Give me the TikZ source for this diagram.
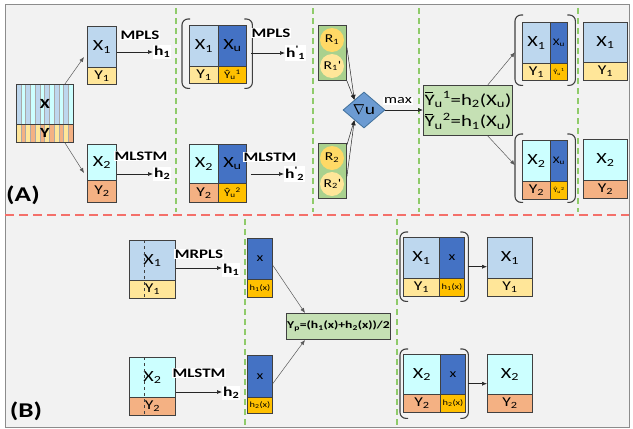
\documentclass[tikz,border=0pt]{standalone}
\usepackage{fontspec}
\setmainfont{Carlito}[FakeStretch=1.3]
\usetikzlibrary{arrows.meta,shapes.geometric,calc}
\definecolor{bgc}{HTML}{F2F2F2}
\definecolor{frame}{HTML}{8C8C8C}
\definecolor{bd}{HTML}{404040}
\definecolor{lb}{HTML}{BDD7EE}
\definecolor{ly}{HTML}{FFE699}
\definecolor{cy}{HTML}{CCFFFF}
\definecolor{orn}{HTML}{F4B183}
\definecolor{dbl}{HTML}{4472C4}
\definecolor{gld}{HTML}{FFC000}
\definecolor{gbox}{HTML}{C5E0B4}
\definecolor{rbox}{HTML}{A9D18E}
\definecolor{rc}{HTML}{FFD966}
\definecolor{dia}{HTML}{6C9BD2}
\definecolor{diab}{HTML}{41719C}
\definecolor{redd}{HTML}{F4706A}
\definecolor{grd}{HTML}{8FCB6A}
\newcommand\fs[1]{\fontsize{#1}{#1}\selectfont}
\newcommand\sbs[1]{\textsubscript{#1}}
\newcommand\sps[1]{\textsuperscript{#1}}
\newcommand\Ybr{\leavevmode\rlap{\hspace{0.06em}\rule[0.74em]{0.5em}{0.06em}}Y}
\newcommand\hp[1]{h\sps{\textquotesingle}\sbs{#1}}
\tikzset{
  cell/.style={draw=bd, line width=0.9pt, inner sep=0pt, anchor=north west, font=\fs{15.5}},
  ycell/.style={cell, font=\fs{13.5}},
  lbl/.style={fill=white, inner sep=1pt, font=\bfseries\fs{13}},
  hl/.style={fill=white, inner sep=1pt, font=\bfseries\fs{13.5}},
  arr/.style={-{Latex[length=5pt,width=4pt]}, line width=0.7pt, draw=black!85},
  garr/.style={-{Latex[length=5pt,width=4pt]}, line width=0.5pt, draw=black!65},
  brk/.style={draw=bd, line width=1.1pt, rounded corners=6pt},
  bnode/.style={inner sep=0pt, anchor=north west},
  gdash/.style={draw=grd, line width=1.2pt, dash pattern=on 6pt off 4pt},
  rdash/.style={draw=redd, line width=1.6pt, dash pattern=on 9pt off 5pt},
  rcirc/.style={circle, inner sep=0pt, minimum size=24pt, font=\fs{12}},
  gnode/.style={draw=bd, line width=0.9pt, fill=gbox, inner sep=0pt, anchor=north west}
}
\begin{document}
\begin{tikzpicture}[x=1pt,y=-1pt]
\useasboundingbox (0,0) rectangle (633,429);
\fill[white] (0,0) rectangle (633,429);
\draw[fill=bgc, draw=frame, line width=1pt] (5,4) rectangle (629,427);
% separators
\draw[rdash] (5,215) -- (629,215);
\foreach \xx in {176,313,419,578} {\draw[gdash] (\xx,8) -- (\xx,212);}
\foreach \xx in {245,397} {\draw[gdash] (\xx,219) -- (\xx,426);}
% ---------------- (A) ----------------
\node[font=\bfseries\fs{21}] (LA) at (23,195) {(A)};
% striped block
\foreach \i in {0,...,11}{
  \ifodd\i \def\ca{cy}\def\cb{orn}\else \def\ca{lb}\def\cb{ly}\fi
  \fill[fill=\ca] ({16+\i*4.75},84) rectangle ({16+(\i+1)*4.75},124);
  \fill[fill=\cb] ({16+\i*4.75},124) rectangle ({16+(\i+1)*4.75},142);
  \draw[bd!45, line width=0.3pt] ({16+\i*4.75},84) -- ({16+\i*4.75},142);
}
\node[cell, minimum width=57pt, minimum height=40pt, font=\bfseries\fs{14}] (SX) at (16,84) {X};
\node[cell, minimum width=57pt, minimum height=18pt, font=\bfseries\fs{14}] (SY) at (16,124) {Y};
% column 1
\node[cell, fill=lb, minimum width=29pt, minimum height=41pt] (A1x) at (87,26) {X\sbs{1}};
\node[ycell, fill=ly, minimum width=29pt, minimum height=17pt] (A1y) at (87,67) {Y\sbs{1}};
\node[cell, fill=cy, minimum width=29pt, minimum height=36pt] (A2x) at (87,144) {X\sbs{2}};
\node[ycell, fill=orn, minimum width=29pt, minimum height=22pt] (A2y) at (87,180) {Y\sbs{2}};
\draw[garr] ($(SX.north)+(20,0)$) -- ($(A1x.north west)+(-3,31)$);
\draw[garr] ($(SY.south)+(20,0)$) -- ($(A2x.north west)+(-3,29)$);
\node[lbl] (A1l) at (140,35) {MPLS};
\node[hl, anchor=west] (A1h) at (153,52) {h\sbs{1}};
\draw[arr] (A1x.east |- A1h.west) -- (A1h.west);
\node[lbl] (A2l) at (141,156) {MLSTM};
\node[hl, anchor=west] (A2h) at (153,174) {h\sbs{2}};
\draw[arr] (A2x.east |- A2h.west) -- (A2h.west);
% column 2
\node[cell, fill=lb, minimum width=29pt, minimum height=41pt] (B1x) at (189,25) {X\sbs{1}};
\node[cell, fill=dbl, minimum width=28pt, minimum height=41pt] (B1u) at (218,25) {X\sbs{u}};
\node[ycell, fill=ly, minimum width=29pt, minimum height=17pt] (B1y) at (189,66) {Y\sbs{1}};
\node[ycell, fill=gld, minimum width=28pt, minimum height=17pt, font=\fs{10}] (B1yu) at (218,66) {Ŷ\sbs{u}\sps{1}};
\node[bnode, minimum width=70pt, minimum height=69pt] (B1b) at (182,19) {};
\draw[brk] ([xshift=8pt]B1b.north west) -- (B1b.north west) -- (B1b.south west) -- ([xshift=8pt]B1b.south west);
\draw[brk] ([xshift=-8pt]B1b.north east) -- (B1b.north east) -- (B1b.south east) -- ([xshift=-8pt]B1b.south east);
\node[lbl] (B1l) at (271,33) {MPLS};
\node[hl, anchor=west] (B1h) at (285,53) {\hp{1}};
\draw[arr] ($(B1b.east |- B1h.west)+(-1,0)$) -- (B1h.west);
\node[cell, fill=cy, minimum width=29pt, minimum height=39pt] (B2x) at (189,144) {X\sbs{2}};
\node[cell, fill=dbl, minimum width=28pt, minimum height=39pt] (B2u) at (218,144) {X\sbs{u}};
\node[ycell, fill=orn, minimum width=29pt, minimum height=19pt] (B2y) at (189,183) {Y\sbs{2}};
\node[ycell, fill=gld, minimum width=28pt, minimum height=19pt, font=\fs{10}] (B2yu) at (218,183) {Ŷ\sbs{u}\sps{2}};
\node[lbl] (B2l) at (270,157) {MLSTM};
\node[hl, anchor=west] (B2h) at (284,174) {\hp{2}};
\draw[arr] ($(B2u.east |- B2h.west)+(4,0)$) -- (B2h.west);
% column 3
\node[bnode, draw=bd, line width=0.9pt, fill=rbox, minimum width=28pt, minimum height=55pt] (R1b) at (318,25) {};
\node[rcirc, fill=rc] (R1) at (332,40) {R\sbs{1}};
\node[rcirc, fill=ly] (R1p) at (332,66) {R\sbs{1}\textquotesingle};
\node[bnode, draw=bd, line width=0.9pt, fill=rbox, minimum width=28pt, minimum height=55pt] (R2b) at (318,143) {};
\node[rcirc, fill=rc] (R2) at (332,158) {R\sbs{2}};
\node[rcirc, fill=ly] (R2p) at (332,184) {R\sbs{2}\textquotesingle};
\node[diamond, draw=diab, line width=0.8pt, fill=dia, inner sep=0pt, minimum width=42pt, minimum height=36pt, font=\fs{15}] (D) at (364,110) {$\nabla$u};
\coordinate (Dt) at ($(D.north)!0.45!(D.west)$);
\coordinate (Db) at ($(D.south)!0.45!(D.west)$);
\draw[garr, draw=black!85] ($(R1b.north east)!0.4!(R1b.south east)$) -- (Dt);
\draw[garr, draw=black!85] (R1b.south east) -- (Dt);
\draw[garr, draw=black!85] ($(R2b.north east)+(0,2)$) -- (Db);
\draw[garr, draw=black!85] ($(R2b.north east)!0.6!(R2b.south east)$) -- (Db);
\node[gnode, minimum width=89pt, minimum height=50pt, align=center, font=\fs{16}] (Yb) at (423,85)
  {\Ybr\sbs{u}\sps{1}=h\sbs{2}(X\sbs{u})\\[4pt]\Ybr\sbs{u}\sps{2}=h\sbs{1}(X\sbs{u})};
\draw[arr] (D.east) -- (D.east -| Yb.west);
\node[fill=white, inner sep=1pt, font=\fs{12.5}] (Dm) at (398,101) {max};
% column 4
\node[cell, fill=lb, minimum width=28pt, minimum height=41pt] (C1x) at (522,22) {X\sbs{1}};
\node[cell, fill=dbl, minimum width=17pt, minimum height=41pt, font=\fs{10}] (C1u) at (550,22) {X\sbs{u}};
\node[ycell, fill=ly, minimum width=28pt, minimum height=17pt] (C1y) at (522,63) {Y\sbs{1}};
\node[ycell, fill=gld, minimum width=17pt, minimum height=17pt, font=\fs{6.5}] (C1yu) at (550,63) {Ŷ\sbs{u}\sps{1}};
\node[bnode, minimum width=60pt, minimum height=70pt] (C1b) at (515,15) {};
\draw[brk] ([xshift=8pt]C1b.north west) -- (C1b.north west) -- (C1b.south west) -- ([xshift=8pt]C1b.south west);
\draw[brk] ([xshift=-8pt]C1b.north east) -- (C1b.north east) -- (C1b.south east) -- ([xshift=-8pt]C1b.south east);
\node[cell, fill=lb, minimum width=44pt, minimum height=40pt] (C1r) at (583,22) {X\sbs{1}};
\node[ycell, fill=ly, minimum width=44pt, minimum height=18pt] (C1ry) at (583,62) {Y\sbs{1}};
\node[cell, fill=cy, minimum width=28pt, minimum height=41pt] (C2x) at (522,140) {X\sbs{2}};
\node[cell, fill=dbl, minimum width=17pt, minimum height=41pt, font=\fs{10}] (C2u) at (550,140) {X\sbs{u}};
\node[ycell, fill=orn, minimum width=28pt, minimum height=18pt] (C2y) at (522,181) {Y\sbs{2}};
\node[ycell, fill=gld, minimum width=17pt, minimum height=18pt, font=\fs{6.5}] (C2yu) at (550,181) {Ŷ\sbs{u}\sps{2}};
\node[bnode, minimum width=60pt, minimum height=68pt] (C2b) at (515,134) {};
\draw[brk] ([xshift=8pt]C2b.north west) -- (C2b.north west) -- (C2b.south west) -- ([xshift=8pt]C2b.south west);
\draw[brk] ([xshift=-8pt]C2b.north east) -- (C2b.north east) -- (C2b.south east) -- ([xshift=-8pt]C2b.south east);
\node[cell, fill=cy, minimum width=44pt, minimum height=41pt] (C2r) at (583,139) {X\sbs{2}};
\node[ycell, fill=orn, minimum width=44pt, minimum height=18pt] (C2ry) at (583,180) {Y\sbs{2}};
\draw[garr] ($(Yb.north west)!0.72!(Yb.north east)$) -- ($(C1b.west)+(0,2)$);
\draw[garr] ($(Yb.south west)!0.72!(Yb.south east)$) -- ($(C2b.west)+(0,-3)$);
% ---------------- (B) ----------------
\node[font=\bfseries\fs{21}] (LB) at (26,411) {(B)};
\node[cell, fill=lb, minimum width=46pt, minimum height=40pt] (D1x) at (129,240) {X\sbs{1}};
\node[ycell, fill=ly, minimum width=46pt, minimum height=18pt] (D1y) at (129,280) {Y\sbs{1}};
\draw[bd, dashed, line width=0.5pt] ($(D1x.north west)+(15,0)$) -- ($(D1y.south west)+(15,0)$);
\node[cell, fill=cy, minimum width=46pt, minimum height=40pt] (D2x) at (129,357) {X\sbs{2}};
\node[ycell, fill=orn, minimum width=46pt, minimum height=18pt] (D2y) at (129,397) {Y\sbs{2}};
\draw[bd, dashed, line width=0.5pt] ($(D2x.north west)+(15,0)$) -- ($(D2y.south west)+(15,0)$);
\node[lbl] (D1l) at (199,254) {MRPLS};
\node[hl, anchor=west] (D1h) at (222,270) {h\sbs{1}};
\draw[arr] ($(D1x.east |- D1h.west)+(0,-2)$) -- ($(D1h.west)+(0,-2)$);
\node[lbl] (D2l) at (199,373) {MLSTM};
\node[hl, anchor=west] (D2h) at (222,393) {h\sbs{2}};
\draw[arr] ($(D2x.east |- D2h.west)+(0,-1)$) -- ($(D2h.west)+(0,-1)$);
\node[cell, fill=dbl, minimum width=25pt, minimum height=41pt, font=\fs{12}] (E1x) at (247,238) {x};
\node[cell, fill=gld, minimum width=25pt, minimum height=18pt, font=\fs{8}] (E1h) at (247,279) {h\sbs{1}(x)};
\node[cell, fill=dbl, minimum width=25pt, minimum height=42pt, font=\fs{12}] (E2x) at (247,355) {x};
\node[cell, fill=gld, minimum width=25pt, minimum height=16pt, font=\fs{8}] (E2h) at (247,397) {h\sbs{2}(x)};
\node[gnode, minimum width=104pt, minimum height=26pt, font=\bfseries\fs{10.5}] (Yp) at (286,313) {Y\sbs{p}=(h\sbs{1}(x)+h\sbs{2}(x))/2};
\draw[garr] ($(E1x.east)+(0,6.5)$) -- ($(Yp.north west)+(19,0)$);
\draw[garr] ($(E2x.east)+(0,7)$) -- ($(Yp.south west)+(19,0)$);
\node[cell, fill=lb, minimum width=36pt, minimum height=41pt] (F1x) at (403,237) {X\sbs{1}};
\node[cell, fill=dbl, minimum width=25pt, minimum height=41pt, font=\fs{12}] (F1u) at (439,237) {x};
\node[ycell, fill=ly, minimum width=36pt, minimum height=18pt] (F1y) at (403,278) {Y\sbs{1}};
\node[cell, fill=gld, minimum width=25pt, minimum height=18pt, font=\fs{8}] (F1h) at (439,278) {h\sbs{1}(x)};
\node[bnode, minimum width=68pt, minimum height=69pt] (F1b) at (400,232) {};
\draw[brk] ([xshift=8pt]F1b.north west) -- (F1b.north west) -- (F1b.south west) -- ([xshift=8pt]F1b.south west);
\draw[brk] ([xshift=-8pt]F1b.north east) -- (F1b.north east) -- (F1b.south east) -- ([xshift=-8pt]F1b.south east);
\node[cell, fill=lb, minimum width=45pt, minimum height=41pt] (G1x) at (487,237) {X\sbs{1}};
\node[ycell, fill=ly, minimum width=45pt, minimum height=18pt] (G1y) at (487,278) {Y\sbs{1}};
\draw[garr, draw=black!85] (F1b.east) -- (F1b.east -| G1x.west);
\node[cell, fill=cy, minimum width=37pt, minimum height=40pt] (F2x) at (403,354) {X\sbs{2}};
\node[cell, fill=dbl, minimum width=25pt, minimum height=40pt, font=\fs{12}] (F2u) at (440,354) {x};
\node[ycell, fill=orn, minimum width=37pt, minimum height=18pt] (F2y) at (403,394) {Y\sbs{2}};
\node[cell, fill=gld, minimum width=25pt, minimum height=18pt, font=\fs{8}] (F2h) at (440,394) {h\sbs{2}(x)};
\node[bnode, minimum width=68pt, minimum height=69pt] (F2b) at (400,349) {};
\draw[brk] ([xshift=8pt]F2b.north west) -- (F2b.north west) -- (F2b.south west) -- ([xshift=8pt]F2b.south west);
\draw[brk] ([xshift=-8pt]F2b.north east) -- (F2b.north east) -- (F2b.south east) -- ([xshift=-8pt]F2b.south east);
\node[cell, fill=cy, minimum width=45pt, minimum height=40pt] (G2x) at (487,354) {X\sbs{2}};
\node[ycell, fill=orn, minimum width=45pt, minimum height=18pt] (G2y) at (487,394) {Y\sbs{2}};
\draw[garr, draw=black!85] (F2b.east) -- (F2b.east -| G2x.west);
\end{tikzpicture}
\end{document}
